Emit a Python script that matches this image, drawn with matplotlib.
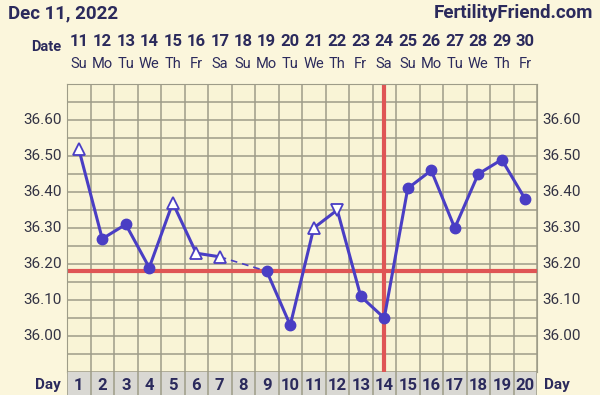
import numpy as np
import matplotlib.pyplot as plt

days = list(range(1, 21))
dates = [11, 12, 13, 14, 15, 16, 17, 18, 19, 20, 21, 22, 23, 24, 25, 26, 27, 28, 29, 30]
weekdays = ["Su", "Mo", "Tu", "We", "Th", "Fr", "Sa", "Su", "Mo", "Tu",
            "We", "Th", "Fr", "Sa", "Su", "Mo", "Tu", "We", "Th", "Fr"]
temps = [36.52, 36.27, 36.31, 36.19, 36.37, 36.23, 36.22, None, 36.18, 36.03,
         36.30, 36.35, 36.11, 36.05, 36.41, 36.46, 36.30, 36.45, 36.49, 36.38]
# o = filled circle, ^ = open triangle, v = open down triangle
markers = ["^", "o", "o", "o", "^", "^", "^", None, "o", "o",
           "^", "v", "o", "o", "o", "o", "o", "o", "o", "o"]
yticks = [36.00, 36.10, 36.20, 36.30, 36.40, 36.50, 36.60]
coverline = 36.18
ovulation_day = 14

bg = "#fbf6dc"
grid_bg = "#f9f4d6"
navy = "#2b2a5c"
blue = "#4a3ec4"
red = "#df5555"
gridc = "#9e9c88"

fig = plt.figure(figsize=(6, 3.95), dpi=100, facecolor=bg)
plt.rcParams['font.family'] = ['Roboto', 'DejaVu Sans']

ax = fig.add_axes([67 / 600, 23 / 395, 470 / 600, 288 / 395])
ax.set_facecolor(grid_bg)
ax.set_xlim(0.5, 20.5)
ax.set_ylim(35.90, 36.70)
for x in np.arange(0.5, 21, 1):
    ax.axvline(x, color=gridc, lw=1.1, zorder=1)
for y in np.arange(35.90, 36.701, 0.05):
    ax.axhline(y, color=gridc, lw=1.1, zorder=1)
for s in ax.spines.values():
    s.set_color(gridc)
ax.tick_params(left=False, bottom=False, labelbottom=False, labelleft=False)

ax.axhline(coverline, color=red, lw=3, zorder=2)
ax.axvline(ovulation_day, color=red, lw=3, zorder=2)

# connecting lines
prev = None
for d, t in zip(days, temps):
    if t is None:
        continue
    if prev is not None:
        pd_, pt = prev
        if d - pd_ == 1:
            ax.plot([pd_, d], [pt, t], color=blue, lw=2.2, zorder=3)
        else:
            ax.plot([pd_, d], [pt, t], color=blue, lw=1.2, ls=(0, (4, 3)), zorder=3)
    prev = (d, t)

for d, t, m in zip(days, temps, markers):
    if t is None:
        continue
    if m == "o":
        ax.plot(d, t, "o", color=blue, ms=7.5, zorder=4)
    else:
        ax.plot(d, t, m, mfc="white", mec=blue, mew=1.3, ms=9, zorder=4)

for y in yticks:
    yf = (23 + (y - 35.90) / 0.80 * 288) / 395
    fig.text(62 / 600, yf, f"{y:.2f}", ha="right", va="center", fontsize=11,
             color="#333344")
    fig.text(542 / 600, yf, f"{y:.2f}", ha="left", va="center", fontsize=11,
             color="#333344")

# day row
dax = fig.add_axes([67 / 600, 0, 470 / 600, 23 / 395])
dax.set_facecolor("#d9d8d3")
dax.set_xlim(0.5, 20.5)
dax.set_ylim(0, 1)
for x in np.arange(0.5, 21, 1):
    dax.axvline(x, color=gridc, lw=1.1)
for s in dax.spines.values():
    s.set_visible(False)
dax.set_xticks([])
dax.set_yticks([])
for d in days:
    dax.text(d, 0.42, str(d), ha="center", va="center", fontsize=12,
             fontweight="bold", color=navy)
fig.text(48 / 600, 10 / 395, "Day", ha="center", va="center", fontsize=11,
         fontweight="bold", color=navy)
fig.text(557 / 600, 10 / 395, "Day", ha="center", va="center", fontsize=11,
         fontweight="bold", color=navy)

# date header
for d, dt, wd in zip(days, dates, weekdays):
    xf = (67 + (d - 0.5) * 23.5) / 600
    fig.text(xf, 1 - 41 / 395, str(dt), ha="center", va="center", fontsize=12,
             fontweight="bold", color=navy)
    fig.text(xf, 1 - 64 / 395, wd, ha="center", va="center", fontsize=10.5,
             color=navy)
fig.text(46 / 600, 1 - 47 / 395, "Date", ha="center", va="center", fontsize=10.5,
         fontweight="bold", color=navy)

fig.text(8 / 600, 1 - 13 / 395, "Dec 11, 2022", ha="left", va="center",
         fontsize=13.5, fontweight="bold", color=navy)
fig.text(593 / 600, 1 - 13 / 395, "FertilityFriend.com", ha="right", va="center",
         fontsize=13.5, fontweight="bold", color=navy)

fig.savefig("out.png", dpi=100, facecolor=bg)
